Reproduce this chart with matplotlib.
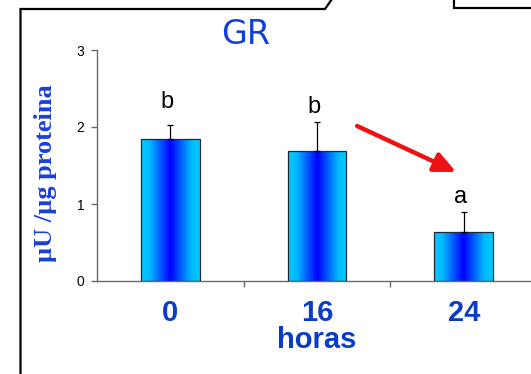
import numpy as np
import matplotlib
matplotlib.use("Agg")
import matplotlib.pyplot as plt
from matplotlib.colors import LinearSegmentedColormap
from matplotlib.lines import Line2D

# ---- data ----
categories = ["0", "16", "24"]
values = [1.85, 1.69, 0.64]
errors = [0.18, 0.38, 0.25]
letters = ["b", "b", "a"]
letter_y = [2.25, 2.18, 1.01]
yticks = [0, 1, 2, 3]
title = "GR"
ylabel = "µU /µg proteina"
xlabel = "horas"

W, H = 531, 374
fig = plt.figure(figsize=(W / 100, H / 100), dpi=100)
fig.patch.set_facecolor("white")

# slide frame lines (figure pixel coords)
def px(x, y):
    return x / W, 1 - y / H
frame_kw = dict(color="black", lw=1.6, transform=fig.transFigure, solid_joinstyle="miter")
xs, ys = zip(*[px(20.5, 380), px(20.5, 9), px(325, 9), px(332, -1)])
fig.add_artist(Line2D(xs, ys, **frame_kw))
xs, ys = zip(*[px(454, -1), px(454, 8), px(535, 8)])
fig.add_artist(Line2D(xs, ys, **frame_kw))

# axes: y axis at x=97px, 0 at y=281px, 3 at y=50px; category width ~146.7px
left, bottom = 97 / W, 1 - 281 / H
width = (3 * 146.7) / W
height = (281 - 50) / H
ax = fig.add_axes([left, bottom, width, height])
ax.set_xlim(-0.5, 2.5)
ax.set_ylim(0, 3)

x = np.arange(len(categories))
bars = ax.bar(x, values, width=0.4, color="none", edgecolor="#1a2a3a", linewidth=0.9, zorder=3)

cmap = LinearSegmentedColormap.from_list(
    "grad", [(0.0, "#00CCFF"), (0.15, "#00B8FF"), (0.5, "#0000FF"), (0.85, "#00B8FF"), (1.0, "#00CCFF")])
grad = np.linspace(0, 1, 256).reshape(1, -1)
for b in bars:
    bx, by = b.get_x(), b.get_y()
    bw, bh = b.get_width(), b.get_height()
    im = ax.imshow(grad, cmap=cmap, aspect="auto", extent=[bx, bx + bw, by, by + bh],
                   interpolation="bilinear", zorder=2)
    im.set_clip_path(b)
ax.set_xlim(-0.5, 2.5)
ax.set_ylim(0, 3)

ax.errorbar(x, values, yerr=[np.zeros(len(errors)), errors], fmt="none", ecolor="black",
            elinewidth=0.9, capsize=2.2, capthick=0.9, zorder=4)

for xi, lt, ly in zip(x, letters, letter_y):
    ax.text(xi - 0.02, ly, lt, ha="center", va="baseline", fontsize=17,
            family="Liberation Sans", color="black")

# red arrow
ax.annotate("", xy=(1.948, 1.416), xytext=(1.273, 2.013),
            arrowprops=dict(arrowstyle="-|>,head_length=1.3,head_width=0.6", color="#EE1111",
                            lw=3.2, shrinkA=0, shrinkB=0), zorder=5)

for s in ["top", "right"]:
    ax.spines[s].set_visible(False)
for s in ["left", "bottom"]:
    ax.spines[s].set_color("#6a6a6a")
    ax.spines[s].set_linewidth(1.0)

ax.set_yticks(yticks)
ax.set_yticklabels([str(t) for t in yticks], fontsize=10, family="Liberation Sans")
ax.tick_params(axis="y", direction="out", length=4, width=1, color="#6a6a6a", pad=5)

ax.set_xticks(x)
ax.set_xticklabels(categories, fontsize=21, fontweight="bold", family="Liberation Sans",
                   color="#0a3cc8")
ax.tick_params(axis="x", which="major", length=0, pad=13)
ax.set_xticks(x[:-1] + 0.5, minor=True)
ax.tick_params(axis="x", which="minor", direction="out", length=4, width=1, color="#6a6a6a")

ax.set_xlabel(xlabel, fontsize=21, fontweight="bold", family="Liberation Sans",
              color="#0a3cc8", labelpad=-1)
ax.set_ylabel(ylabel, fontsize=19, fontweight="bold", family="Liberation Serif",
              color="#1a3fd6")
ax.yaxis.set_label_coords(-0.09, 0.4675)

fig.text(246 / W, 1 - 35 / H, title, ha="center", va="center", fontsize=24,
         family="DejaVu Sans", color="#1040d8")

fig.savefig("out.png", dpi=100, facecolor="white")
